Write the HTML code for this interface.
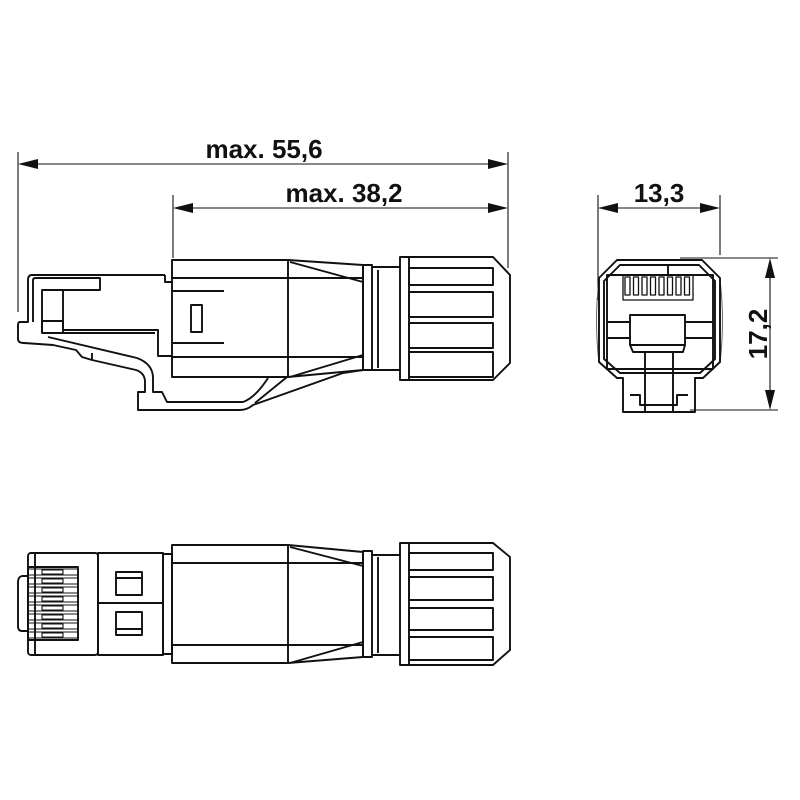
<!DOCTYPE html>
<html><head><style>html,body{margin:0;padding:0;background:#fff}svg{display:block}</style></head>
<body>
<svg width="800" height="800" viewBox="0 0 800 800" xmlns="http://www.w3.org/2000/svg" fill="none" stroke="#111" stroke-width="1.9" stroke-linejoin="round">
<g font-family="Liberation Sans, Arial, sans-serif" font-weight="bold" font-size="26" fill="#111" stroke="none">
<text x="264" y="158" text-anchor="middle">max. 55,6</text>
<text x="344" y="202" text-anchor="middle">max. 38,2</text>
<text x="659" y="202" text-anchor="middle">13,3</text>
<text x="0" y="0" text-anchor="middle" transform="translate(767,334) rotate(-90)">17,2</text>
</g>
<g stroke-width="1.1">
<line x1="18" y1="152" x2="18" y2="312"/>
<line x1="173" y1="195" x2="173" y2="258"/>
<line x1="508" y1="152" x2="508" y2="268"/>
<line x1="30" y1="164" x2="496" y2="164"/>
<line x1="185" y1="208" x2="496" y2="208"/>
<line x1="598" y1="195" x2="598" y2="300"/>
<line x1="720" y1="195" x2="720" y2="255"/>
<line x1="610" y1="208" x2="708" y2="208"/>
<line x1="680" y1="258" x2="778" y2="258"/>
<line x1="690" y1="410" x2="778" y2="410"/>
<line x1="770" y1="270" x2="770" y2="398"/>
</g>
<g fill="#111" stroke="none">
<path d="M18,164 L38,159 L38,169Z"/><path d="M508,164 L488,159 L488,169Z"/>
<path d="M173,208 L193,203 L193,213Z"/><path d="M508,208 L488,203 L488,213Z"/>
<path d="M598,208 L618,203 L618,213Z"/><path d="M720,208 L700,203 L700,213Z"/>
<path d="M770,258 L765,278 L775,278Z"/><path d="M770,410 L765,390 L775,390Z"/>
</g>

<!-- side view -->
<rect x="172" y="260" width="116" height="117"/>
<line x1="172" y1="278" x2="363" y2="278"/><line x1="172" y1="357" x2="363" y2="357"/>
<path d="M288,260 L363,265 L363,370 L288,377"/>
<line x1="290" y1="262" x2="363" y2="282"/><line x1="290" y1="377" x2="363" y2="355"/>
<rect x="363" y="265" width="9" height="105"/>
<path d="M372,267 L400,267 M372,370 L400,370"/><line x1="378" y1="270" x2="378" y2="368"/>
<path d="M400,257 L493,257 L510,275 L510,363 L493,380 L400,380 Z"/>
<line x1="409" y1="257" x2="409" y2="380"/>
<rect x="409" y="268" width="84" height="17"/><rect x="409" y="292" width="84" height="25"/>
<rect x="409" y="323" width="84" height="25"/><rect x="409" y="352" width="84" height="25"/>
<rect x="191" y="305" width="11" height="27"/>
<path d="M172,291 L224,291 M172,343 L224,343"/>
<path d="M165,275 L32,275 Q28,275 28,280 L28,322 L20,322 Q18,322 18,325 L18,339 Q18,343 24,343 L53,345 L76,350 L82,357 L92,360 L136,370 Q145,373 145,382 L145,392 L138,392 L138,410 L240,410 Q247,410 253,405 L343,373 L363,370"/>
<path d="M165,275 L165,282 L172,282"/>
<path d="M33,322 L33,280 Q33,278 36,278 L100,278 L100,290 L42,290 L42,333"/>
<line x1="63" y1="290" x2="63" y2="330"/>
<rect x="42" y="321" width="21" height="12"/>
<path d="M63,330 L158,330 L158,356 L172,356"/>
<line x1="42" y1="333" x2="155" y2="333"/>
<line x1="92" y1="353" x2="92" y2="360"/>
<path d="M48,337 L137,358 Q153,364 153,378 L153,392 L162,392 L167,402 L243,402 Q255,398 268,378"/>
<line x1="255" y1="403" x2="287" y2="377"/>

<!-- bottom view -->
<rect x="172" y="545" width="116" height="118"/>
<line x1="172" y1="563" x2="363" y2="563"/><line x1="172" y1="645" x2="363" y2="645"/>
<path d="M288,545 L363,552 L363,657 L288,663"/>
<line x1="290" y1="547" x2="363" y2="566"/><line x1="290" y1="663" x2="363" y2="642"/>
<rect x="363" y="551" width="9" height="106"/>
<path d="M372,555 L400,555 M372,655 L400,655"/><line x1="378" y1="557" x2="378" y2="653"/>
<path d="M400,543 L493,543 L510,557 L510,650 L493,665 L400,665 Z"/>
<line x1="409" y1="543" x2="409" y2="665"/>
<rect x="409" y="553" width="84" height="17"/><rect x="409" y="577" width="84" height="23"/>
<rect x="409" y="608" width="84" height="22"/><rect x="409" y="637" width="84" height="23"/>
<rect x="28" y="553" width="70" height="102" rx="3"/>
<line x1="35" y1="553" x2="35" y2="655"/>
<rect x="28" y="567" width="50" height="73"/>
<g stroke-width="1.1">
<path d="M28,569 H78 M28,575 H78 M28,578 H78 M28,584 H78 M28,587 H78 M28,593 H78 M28,596 H78 M28,602 H78 M28,605 H78 M28,611 H78 M28,614 H78 M28,620 H78 M28,623 H78 M28,629 H78 M28,632 H78 M28,638 H78"/>
<rect x="42" y="570" width="21" height="4" fill="#fff"/><rect x="42" y="579" width="21" height="4" fill="#fff"/>
<rect x="42" y="588" width="21" height="4" fill="#fff"/><rect x="42" y="597" width="21" height="4" fill="#fff"/>
<rect x="42" y="606" width="21" height="4" fill="#fff"/><rect x="42" y="615" width="21" height="4" fill="#fff"/>
<rect x="42" y="624" width="21" height="4" fill="#fff"/><rect x="42" y="633" width="21" height="4" fill="#fff"/>
</g>
<path d="M28,576 L22,576 Q18,577 18,582 L18,626 Q18,631 22,631 L28,631"/>
<rect x="98" y="553" width="65" height="102"/><line x1="98" y1="603" x2="163" y2="603"/>
<rect x="116" y="572" width="26" height="23"/><line x1="116" y1="578" x2="142" y2="578"/>
<rect x="116" y="612" width="26" height="23"/><line x1="116" y1="629" x2="142" y2="629"/>
<rect x="163" y="554" width="9" height="100"/>

<!-- front view -->
<path d="M599,280 Q594,320 599,363" stroke-width="1" stroke="#666"/>
<path d="M720,280 Q725,320 720,363" stroke-width="1" stroke="#666"/>
<path d="M617,260 L702,260 L720,278 L720,362 L703,378 L695,378 L695,412 L623,412 L623,378 L617,378 L599,362 L599,278 Z"/>
<path d="M620,265 L699,265 L715,281 L715,359 L700,373 L620,373 L604,359 L604,281 Z"/>
<rect x="607" y="275" width="106" height="94"/>
<line x1="668" y1="265" x2="668" y2="275"/>
<g stroke-width="1.3">
<rect x="623" y="275" width="70" height="25"/>
<rect x="625" y="277" width="5" height="18"/><rect x="633.5" y="277" width="5" height="18"/>
<rect x="642" y="277" width="5" height="18"/><rect x="650.5" y="277" width="5" height="18"/>
<rect x="659" y="277" width="5" height="18"/><rect x="667.5" y="277" width="5" height="18"/>
<rect x="676" y="277" width="5" height="18"/><rect x="684.5" y="277" width="5" height="18"/>
</g>
<line x1="607" y1="322" x2="630" y2="322"/><line x1="685" y1="322" x2="713" y2="322"/>
<line x1="607" y1="338" x2="630" y2="338"/><line x1="685" y1="338" x2="713" y2="338"/>
<rect x="630" y="315" width="55" height="30"/>
<path d="M630,345 L633,352 L683,352 L685,345"/>
<rect x="645" y="352" width="28" height="60"/>
<path d="M630,395 L640,395 L640,405 L677,405 L677,395 L688,395"/>
</svg>
</body></html>
